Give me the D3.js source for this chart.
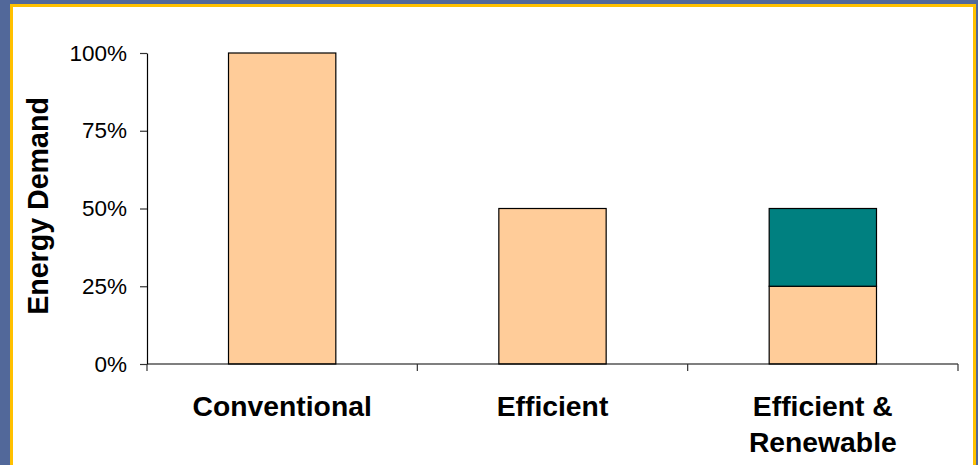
<!DOCTYPE html>
<html>
<head>
<meta charset="utf-8">
<script src="https://cdn.jsdelivr.net/npm/d3@7"></script>
<style>
  html, body { margin: 0; padding: 0; background: #52689a; }
  svg { display: block; font-family: "Liberation Sans", Arial, sans-serif; }
</style>
</head>
<body>
<svg id="chart" width="978" height="465"></svg>
<script>
// Energy demand by building approach, as a share of the conventional case
const categories = ["Conventional", "Efficient", "Efficient & Renewable"];
const categoryLines = [["Conventional"], ["Efficient"], ["Efficient &", "Renewable"]];
const demandMet = [1.00, 0.50, 0.25];      // lower (peach) segment
const renewableShare = [0.00, 0.00, 0.25]; // upper (teal) segment
const yTicks = [0, 0.25, 0.50, 0.75, 1.00];

const svg = d3.select("#chart");

// Frame: blue backdrop, gold border, white panel
svg.append("rect").attr("x", 0).attr("y", 0).attr("width", 978).attr("height", 465).attr("fill", "#52689a");
svg.append("rect").attr("x", 10).attr("y", 4).attr("width", 966).attr("height", 470).attr("fill", "#ffc000");
svg.append("rect").attr("x", 13).attr("y", 7).attr("width", 960).attr("height", 470).attr("fill", "#ffffff");

const x = d3.scaleBand().domain(categories).range([147, 958]).padding(0);
const y = d3.scaleLinear().domain([0, 1]).range([364, 53]);
const barW = x.bandwidth() * 0.397;
const barX = c => x(c) + (x.bandwidth() - barW) / 2;

// Y axis
const yAxis = d3.axisLeft(y)
  .tickValues(yTicks)
  .tickFormat(d3.format(".0%"))
  .tickSize(7)
  .tickSizeOuter(0)
  .tickPadding(13);
const gy = svg.append("g").attr("transform", `translate(${x.range()[0]},0)`).call(yAxis);
gy.select(".domain").attr("stroke", "#000").attr("stroke-width", 1.2);
gy.selectAll(".tick line").attr("stroke", "#333").attr("stroke-width", 1.2);
gy.selectAll(".tick text").attr("font-size", 22.5).attr("fill", "#000")
  .attr("font-family", "'Liberation Sans', Arial, sans-serif");

// Bars: lower segment
svg.append("g").selectAll("rect").data(categories).join("rect")
  .attr("x", c => barX(c))
  .attr("width", barW)
  .attr("y", (c, i) => y(demandMet[i]))
  .attr("height", (c, i) => y(0) - y(demandMet[i]))
  .attr("fill", "#ffcc99")
  .attr("stroke", "#000")
  .attr("stroke-width", 1.2);

// Bars: upper segment
svg.append("g").selectAll("rect").data(categories.filter((c, i) => renewableShare[i] > 0)).join("rect")
  .attr("x", c => barX(c))
  .attr("width", barW)
  .attr("y", c => { const i = categories.indexOf(c); return y(demandMet[i] + renewableShare[i]); })
  .attr("height", c => { const i = categories.indexOf(c); return y(demandMet[i]) - y(demandMet[i] + renewableShare[i]); })
  .attr("fill", "#008080")
  .attr("stroke", "#000")
  .attr("stroke-width", 1.2);

// X axis: baseline plus boundary ticks between categories
const gx = svg.append("g");
gx.append("line")
  .attr("x1", x.range()[0]).attr("x2", x.range()[1])
  .attr("y1", y(0)).attr("y2", y(0))
  .attr("stroke", "#000").attr("stroke-width", 1.2);
const bounds = categories.map(c => x(c)).concat([x(categories[categories.length - 1]) + x.bandwidth()]);
gx.selectAll("line.bound").data(bounds).join("line")
  .attr("class", "bound")
  .attr("x1", d => d).attr("x2", d => d)
  .attr("y1", y(0)).attr("y2", y(0) + 7)
  .attr("stroke", "#333").attr("stroke-width", 1.2);

// Category labels
const labels = gx.selectAll("text.cat").data(categories).join("text")
  .attr("class", "cat")
  .attr("text-anchor", "middle")
  .attr("font-size", 28.3)
  .attr("font-weight", "bold")
  .attr("fill", "#000");
labels.each(function(c, i) {
  const t = d3.select(this);
  categoryLines[i].forEach((line, k) => {
    t.append("tspan")
      .attr("x", x(c) + x.bandwidth() / 2)
      .attr("y", y(0) + 52 + k * 36)
      .text(line);
  });
});

// Y axis title
svg.append("text")
  .attr("transform", `translate(48, 206) rotate(-90)`)
  .attr("text-anchor", "middle")
  .attr("font-size", 28.6)
  .attr("font-weight", "bold")
  .attr("fill", "#000")
  .text("Energy Demand");
</script>
</body>
</html>
